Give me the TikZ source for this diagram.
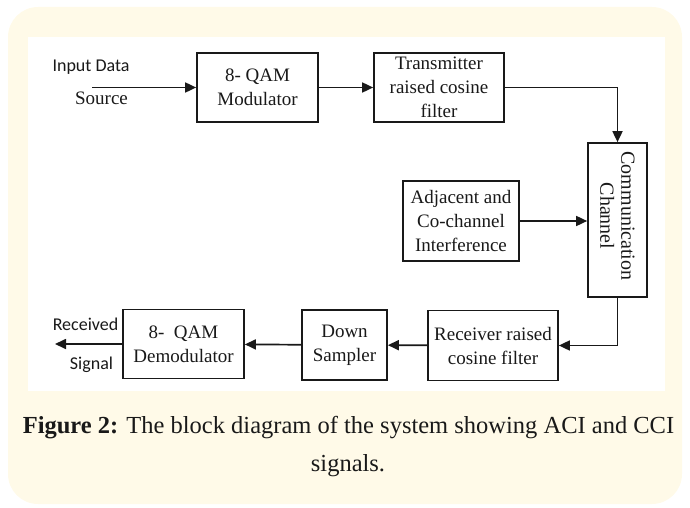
\documentclass[tikz,border=0pt]{standalone}
\usepackage{fontspec}
\setmainfont{Liberation Serif}
\newfontfamily\labelsans{Carlito}
\usetikzlibrary{arrows.meta}
\definecolor{cream}{RGB}{255,250,232}
\definecolor{ink}{RGB}{25,25,25}
\begin{document}
\begin{tikzpicture}[x=1pt,y=-1pt,
  blk/.style={draw=ink, line width=1.7pt, inner sep=0pt, align=center,
              font=\fontsize{19}{24}\selectfont, text=ink},
  flow/.style={draw=ink, line width=1.7pt, -{Triangle[length=11pt,width=10pt]}},
  side/.style={font=\labelsans\fontsize{18}{20}\selectfont, text=ink, inner sep=0pt},
  plain/.style={font=\fontsize{19}{24}\selectfont, text=ink, inner sep=0pt},
  captxt/.style={font=\fontsize{24.5}{38}\selectfont, text=ink, inner sep=0pt}]
\useasboundingbox (0,0) rectangle (690,508);
% card and figure panel
\fill[cream, rounded corners=30pt] (8,7) rectangle (682,504);
\fill[white] (28,37) rectangle (665,391);

% blocks
\node[blk, minimum width=121pt, minimum height=69pt] (mod) at (257.5,87.5) {8- QAM\\Modulator};
\node[blk, minimum width=130pt, minimum height=69pt] (tx) at (439,87.5) {Transmitter\\raised cosine\\filter};
\node[blk, minimum width=59pt, minimum height=154pt] (chan) at (617.5,220) {};
\node[rotate=-90, align=center, font=\fontsize{20}{21}\selectfont, text=ink, inner sep=0pt]
  (chantxt) at (617.5,216) {Communication\\Channel};
\node[blk, minimum width=116pt, minimum height=80pt] (intf) at (461,221) {Adjacent and\\Co-channel\\Interference};
\node[blk, minimum width=130pt, minimum height=70pt] (rx) at (493,345.5) {Receiver raised\\cosine filter};
\node[blk, minimum width=85pt, minimum height=70pt] (ds) at (344.5,345) {Down\\Sampler};
\node[blk, minimum width=121pt, minimum height=69pt] (demod) at (183.5,344) {8-\ \ QAM\\Demodulator};

% free ends of the input and output lines
\coordinate (src) at (92,87.5);
\coordinate (sink) at (55,344);

% connectors
\draw[flow] (src) -- (mod.west);
\draw[flow] (mod) -- (tx);
\draw[flow] (tx.east) -| (chan.north);
\draw[flow] (intf.east) -- (intf.east -| chan.west);
\draw[flow] (chan.south) |- (rx.east);
\draw[flow] (rx) -- (ds);
\draw[flow] (ds) -- (demod);
\draw[flow] (demod.west) -- (sink);

% input / output labels
\node[side] (inlbl) at (91,67) {Input Data};
\node[plain] (srclbl) at (101.5,98) {Source};
\node[side] (rcvlbl) at (85.5,324) {Received};
\node[side] (siglbl) at (91.5,365) {Signal};

% caption
\node[captxt] (cap1) at (348.5,428) {\textbf{Figure 2:} The block diagram of the system showing ACI and CCI};
\node[captxt] (cap2) at (348,466) {signals.};
\end{tikzpicture}
\end{document}
